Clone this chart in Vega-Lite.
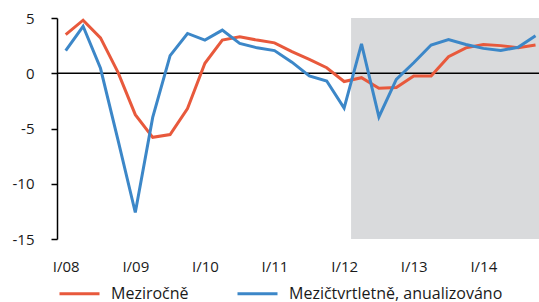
{
  "$schema": "https://vega.github.io/schema/vega-lite/v6.json",
  "width": 482,
  "height": 221,
  "autosize": {"type": "none"},
  "padding": {"left": 57, "top": 18, "right": 0, "bottom": 63},
  "config": {"view": {"stroke": null}, "font": "Open Sans"},
  "datasets": {
    "gdp": [
      {"t": 0, "q": "I/08", "series": "Meziročně", "value": 3.5},
      {"t": 1, "q": "II/08", "series": "Meziročně", "value": 4.8},
      {"t": 2, "q": "III/08", "series": "Meziročně", "value": 3.2},
      {"t": 3, "q": "IV/08", "series": "Meziročně", "value": 0.1},
      {"t": 4, "q": "I/09", "series": "Meziročně", "value": -3.75},
      {"t": 5, "q": "II/09", "series": "Meziročně", "value": -5.8},
      {"t": 6, "q": "III/09", "series": "Meziročně", "value": -5.55},
      {"t": 7, "q": "IV/09", "series": "Meziročně", "value": -3.2},
      {"t": 8, "q": "I/10", "series": "Meziročně", "value": 0.9},
      {"t": 9, "q": "II/10", "series": "Meziročně", "value": 3.0},
      {"t": 10, "q": "III/10", "series": "Meziročně", "value": 3.3},
      {"t": 11, "q": "IV/10", "series": "Meziročně", "value": 3.0},
      {"t": 12, "q": "I/11", "series": "Meziročně", "value": 2.75},
      {"t": 13, "q": "II/11", "series": "Meziročně", "value": 1.95},
      {"t": 14, "q": "III/11", "series": "Meziročně", "value": 1.25},
      {"t": 15, "q": "IV/11", "series": "Meziročně", "value": 0.5},
      {"t": 16, "q": "I/12", "series": "Meziročně", "value": -0.75},
      {"t": 17, "q": "II/12", "series": "Meziročně", "value": -0.4},
      {"t": 18, "q": "III/12", "series": "Meziročně", "value": -1.35},
      {"t": 19, "q": "IV/12", "series": "Meziročně", "value": -1.3},
      {"t": 20, "q": "I/13", "series": "Meziročně", "value": -0.25},
      {"t": 21, "q": "II/13", "series": "Meziročně", "value": -0.25},
      {"t": 22, "q": "III/13", "series": "Meziročně", "value": 1.5},
      {"t": 23, "q": "IV/13", "series": "Meziročně", "value": 2.3},
      {"t": 24, "q": "I/14", "series": "Meziročně", "value": 2.6},
      {"t": 25, "q": "II/14", "series": "Meziročně", "value": 2.5},
      {"t": 26, "q": "III/14", "series": "Meziročně", "value": 2.3},
      {"t": 27, "q": "IV/14", "series": "Meziročně", "value": 2.55},
      {"t": 0, "q": "I/08", "series": "Mezičtvrtletně, anualizováno", "value": 2.05},
      {"t": 1, "q": "II/08", "series": "Mezičtvrtletně, anualizováno", "value": 4.25},
      {"t": 2, "q": "III/08", "series": "Mezičtvrtletně, anualizováno", "value": 0.45},
      {"t": 3, "q": "IV/08", "series": "Mezičtvrtletně, anualizováno", "value": -6.0},
      {"t": 4, "q": "I/09", "series": "Mezičtvrtletně, anualizováno", "value": -12.6},
      {"t": 5, "q": "II/09", "series": "Mezičtvrtletně, anualizováno", "value": -4.0},
      {"t": 6, "q": "III/09", "series": "Mezičtvrtletně, anualizováno", "value": 1.6},
      {"t": 7, "q": "IV/09", "series": "Mezičtvrtletně, anualizováno", "value": 3.6},
      {"t": 8, "q": "I/10", "series": "Mezičtvrtletně, anualizováno", "value": 3.0},
      {"t": 9, "q": "II/10", "series": "Mezičtvrtletně, anualizováno", "value": 3.9},
      {"t": 10, "q": "III/10", "series": "Mezičtvrtletně, anualizováno", "value": 2.7},
      {"t": 11, "q": "IV/10", "series": "Mezičtvrtletně, anualizováno", "value": 2.3},
      {"t": 12, "q": "I/11", "series": "Mezičtvrtletně, anualizováno", "value": 2.05},
      {"t": 13, "q": "II/11", "series": "Mezičtvrtletně, anualizováno", "value": 1.0},
      {"t": 14, "q": "III/11", "series": "Mezičtvrtletně, anualizováno", "value": -0.25},
      {"t": 15, "q": "IV/11", "series": "Mezičtvrtletně, anualizováno", "value": -0.7},
      {"t": 16, "q": "I/12", "series": "Mezičtvrtletně, anualizováno", "value": -3.15},
      {"t": 17, "q": "II/12", "series": "Mezičtvrtletně, anualizováno", "value": 2.65},
      {"t": 18, "q": "III/12", "series": "Mezičtvrtletně, anualizováno", "value": -3.95},
      {"t": 19, "q": "IV/12", "series": "Mezičtvrtletně, anualizováno", "value": -0.55},
      {"t": 20, "q": "I/13", "series": "Mezičtvrtletně, anualizováno", "value": 0.95},
      {"t": 21, "q": "II/13", "series": "Mezičtvrtletně, anualizováno", "value": 2.55},
      {"t": 22, "q": "III/13", "series": "Mezičtvrtletně, anualizováno", "value": 3.05},
      {"t": 23, "q": "IV/13", "series": "Mezičtvrtletně, anualizováno", "value": 2.6},
      {"t": 24, "q": "I/14", "series": "Mezičtvrtletně, anualizováno", "value": 2.25},
      {"t": 25, "q": "II/14", "series": "Mezičtvrtletně, anualizováno", "value": 2.05},
      {"t": 26, "q": "III/14", "series": "Mezičtvrtletně, anualizováno", "value": 2.35},
      {"t": 27, "q": "IV/14", "series": "Mezičtvrtletně, anualizováno", "value": 3.4}
    ],
    "forecast": [{"start": 16.4, "end": 27.2, "top": 5, "bottom": -15}],
    "zero": [{"y": 0}]
  },
  "layer": [
    {
      "data": {"name": "forecast"},
      "mark": {"type": "rect", "color": "#D9DADC"},
      "encoding": {
        "x": {
          "field": "start", "type": "quantitative", "title": null,
          "scale": {"domain": [-0.5, 27.2], "nice": false, "zero": false},
          "axis": {
            "values": [0, 4, 8, 12, 16, 20, 24],
            "labelExpr": "'I/' + (datum.value < 8 ? '0' : '') + (8 + datum.value / 4)",
            "domain": false, "ticks": false, "grid": false,
            "labelPadding": 20, "labelFontSize": 15, "labelColor": "#1a1a1a",
            "labelFlush": false, "title": null
          }
        },
        "x2": {"field": "end"},
        "y": {
          "field": "top", "type": "quantitative", "title": null,
          "scale": {"domain": [-15, 5], "nice": false},
          "axis": {
            "values": [-15, -10, -5, 0, 5],
            "labelExpr": "'' + datum.value",
            "domain": true, "domainColor": "#000000", "domainWidth": 1.5,
            "ticks": true, "tickColor": "#000000", "tickSize": 6, "tickWidth": 1.5,
            "grid": false, "labelPadding": 17, "labelFontSize": 15, "labelColor": "#1a1a1a",
            "title": null
          }
        },
        "y2": {"field": "bottom"}
      }
    },
    {
      "data": {"name": "zero"},
      "mark": {"type": "rule", "color": "#000000", "strokeWidth": 1.5},
      "encoding": {
        "y": {"field": "y", "type": "quantitative", "title": null}
      }
    },
    {
      "data": {"name": "gdp"},
      "mark": {"type": "line", "strokeWidth": 3, "strokeJoin": "miter"},
      "encoding": {
        "x": {"field": "t", "type": "quantitative", "title": null},
        "y": {"field": "value", "type": "quantitative", "title": null},
        "color": {
          "field": "series", "type": "nominal",
          "scale": {"domain": ["Meziročně", "Mezičtvrtletně, anualizováno"], "range": ["#E8593C", "#3C87C8"]},
          "legend": {
            "orient": "none", "legendX": 1, "legendY": 254,
            "direction": "horizontal", "title": null,
            "symbolType": "stroke", "symbolSize": 1600, "symbolStrokeWidth": 3,
            "labelFontSize": 16, "labelColor": "#1a1a1a", "labelOffset": 10,
            "labelLimit": 400, "columnPadding": 42
          }
        }
      }
    }
  ]
}
